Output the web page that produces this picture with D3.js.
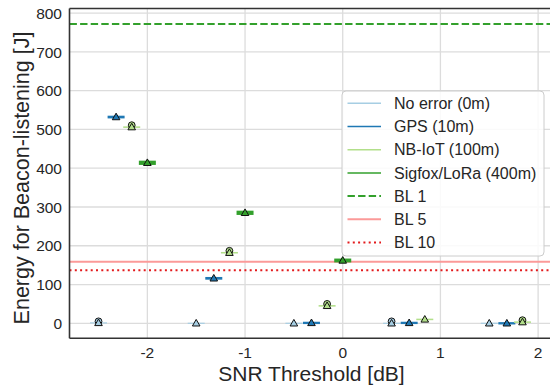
<!DOCTYPE html>
<html>
<head>
<meta charset="utf-8">
<script src="https://cdn.jsdelivr.net/npm/d3@7"></script>
<style>
  body { margin: 0; background: #fff; }
  svg { display: block; font-family: "Liberation Sans", Arial, sans-serif; }
</style>
</head>
<body>
<div id="chart"></div>
<script>
// snr categories and per-series dodge offsets
const categories = [-2, -1, 0, 1, 2];
const seriesNames = ['No error (0m)', 'GPS (10m)', 'NB-IoT (100m)', 'Sigfox/LoRa (400m)'];
const seriesOffsets = [-0.5, -0.32, -0.16, 0];

// mean energy per category (J)
const noErrorMean = [1, 0, 0, 0, 0];
const gpsMean = [532, 116, 1, 1, 0];
const nbiotMean = [506, 182, 45, 10, 3];
const sigfoxMean = [414, 285, 162, null, null];

// interquartile spread (J)
const noErrorIqr = [3, 3, 3, 3, 3];
const gpsIqr = [7, 7, 6, 6, 6];
const nbiotIqr = [4, 4, 4, 4, 4];
const sigfoxIqr = [11, 11, 10, null, null];

// outliers (J)
const noErrorFlier = [5, null, null, 5, null];
const gpsFlier = [null, null, null, null, null];
const nbiotFlier = [511, 187, 50, null, 8];
const sigfoxFlier = [null, null, null, null, null];

// baseline energies (J)
const baselineNames = ['BL 1', 'BL 5', 'BL 10'];
const baselineValues = [772, 159, 137];

const yTicks = [0, 100, 200, 300, 400, 500, 600, 700, 800];
const xTicks = [-2, -1, 0, 1, 2];

const colors = ['#a6cee3', '#1f78b4', '#b2df8a', '#33a02c'];
const baselineStyles = [
  {color: '#33a02c', dash: '7.4,3.2', width: 2},
  {color: '#fb9a99', dash: null, width: 2},
  {color: '#e31a1c', dash: '2,3.3', width: 2}
];

const width = 550, height = 388;
const margin = {left: 69.5, right: -1, top: 8.5, bottom: 49.7};

const means = [noErrorMean, gpsMean, nbiotMean, sigfoxMean];
const iqrs = [noErrorIqr, gpsIqr, nbiotIqr, sigfoxIqr];
const fliers = [noErrorFlier, gpsFlier, nbiotFlier, sigfoxFlier];

const svg = d3.select('#chart').append('svg')
  .attr('width', width)
  .attr('height', height);

const x = d3.scaleLinear()
  .domain([-2.797, 2.132])
  .range([margin.left, width - margin.right]);

const y = d3.scaleLinear()
  .domain([-38.7, 812])
  .range([height - margin.bottom, margin.top]);

const plotBottom = height - margin.bottom;

// grid
svg.append('g')
  .selectAll('line.gy')
  .data(yTicks)
  .enter().append('line')
  .attr('x1', margin.left).attr('x2', width)
  .attr('y1', d => y(d)).attr('y2', d => y(d))
  .attr('stroke', '#dcdcdc').attr('stroke-width', 1.3);

svg.append('g')
  .selectAll('line.gx')
  .data(xTicks)
  .enter().append('line')
  .attr('x1', d => x(d)).attr('x2', d => x(d))
  .attr('y1', margin.top).attr('y2', plotBottom)
  .attr('stroke', '#dcdcdc').attr('stroke-width', 1.3);

// baselines
svg.append('g')
  .selectAll('line.bl')
  .data(baselineValues)
  .enter().append('line')
  .attr('x1', margin.left).attr('x2', width)
  .attr('y1', d => y(d)).attr('y2', d => y(d))
  .attr('stroke', (d, i) => baselineStyles[i].color)
  .attr('stroke-width', (d, i) => baselineStyles[i].width)
  .attr('stroke-dasharray', (d, i) => baselineStyles[i].dash);

// boxes, fliers and mean markers
const boxW = 0.174;
const tri = d3.symbol().type(d3.symbolTriangle).size(25);

means.forEach((vals, s) => {
  const g = svg.append('g');
  const pts = categories.map((c, i) => ({
    cx: c + seriesOffsets[s], m: vals[i], iqr: iqrs[s][i], fl: fliers[s][i]
  })).filter(d => d.m !== null);

  g.selectAll('rect')
    .data(pts)
    .enter().append('rect')
    .attr('x', d => x(d.cx - boxW / 2))
    .attr('width', x(boxW) - x(0))
    .attr('y', d => y(d.m + d.iqr / 2))
    .attr('height', d => y(d.m - d.iqr / 2) - y(d.m + d.iqr / 2))
    .attr('fill', colors[s]);

  g.selectAll('circle')
    .data(pts.filter(d => d.fl !== null))
    .enter().append('circle')
    .attr('cx', d => x(d.cx))
    .attr('cy', d => y(d.fl))
    .attr('r', 3.4)
    .attr('fill', colors[s])
    .attr('stroke', '#111').attr('stroke-width', 1);

  g.selectAll('path')
    .data(pts)
    .enter().append('path')
    .attr('d', tri)
    .attr('transform', d => 'translate(' + x(d.cx) + ',' + (y(d.m) + 0.5) + ')')
    .attr('fill', colors[s])
    .attr('stroke', '#111').attr('stroke-width', 1);
});

// spines
const spine = svg.append('g').attr('stroke', '#333').attr('stroke-width', 1.6);
spine.append('line').attr('x1', margin.left).attr('x2', margin.left).attr('y1', margin.top).attr('y2', plotBottom);
spine.append('line').attr('x1', margin.left).attr('x2', width).attr('y1', plotBottom).attr('y2', plotBottom);
spine.append('line').attr('x1', margin.left).attr('x2', width).attr('y1', margin.top).attr('y2', margin.top);

// tick labels
svg.append('g')
  .selectAll('text')
  .data(yTicks)
  .enter().append('text')
  .attr('x', 62)
  .attr('y', d => y(d) + 5.6)
  .attr('text-anchor', 'end')
  .attr('font-size', 15.5)
  .attr('fill', '#262626')
  .text(d => d);

svg.append('g')
  .selectAll('text')
  .data(xTicks)
  .enter().append('text')
  .attr('x', d => x(d))
  .attr('y', 357.5)
  .attr('text-anchor', 'middle')
  .attr('font-size', 15.5)
  .attr('fill', '#262626')
  .text(d => d < 0 ? '-' + Math.abs(d) : d);

// axis labels
svg.append('text')
  .attr('x', 311.5).attr('y', 381)
  .attr('text-anchor', 'middle')
  .attr('font-size', 21)
  .attr('fill', '#262626')
  .text('SNR Threshold [dB]');

svg.append('text')
  .attr('transform', 'translate(29,178) rotate(-90)')
  .attr('text-anchor', 'middle')
  .attr('font-size', 21.5)
  .attr('fill', '#262626')
  .text('Energy for Beacon-listening [J]');

// legend
const legend = svg.append('g');
legend.append('rect')
  .attr('x', 342).attr('y', 91)
  .attr('width', 202).attr('height', 165)
  .attr('rx', 4)
  .attr('fill', '#fff').attr('fill-opacity', 0.85)
  .attr('stroke', '#cccccc').attr('stroke-width', 1);

const legendItems = seriesNames.map((n, i) => ({name: n, color: colors[i], dash: null, width: 1.5}))
  .concat(baselineNames.map((n, i) => ({
    name: n, color: baselineStyles[i].color, dash: baselineStyles[i].dash, width: baselineStyles[i].width
  })));

const item = legend.selectAll('g.item')
  .data(legendItems)
  .enter().append('g')
  .attr('transform', (d, i) => 'translate(0,' + (103.3 + i * 23.2) + ')');

item.append('line')
  .attr('x1', 347.5).attr('x2', 381)
  .attr('stroke', d => d.color)
  .attr('stroke-width', d => d.width)
  .attr('stroke-dasharray', d => d.dash);

item.append('text')
  .attr('x', 394).attr('y', 5.7)
  .attr('font-size', 16)
  .attr('fill', '#262626')
  .text(d => d.name);
</script>
</body>
</html>
